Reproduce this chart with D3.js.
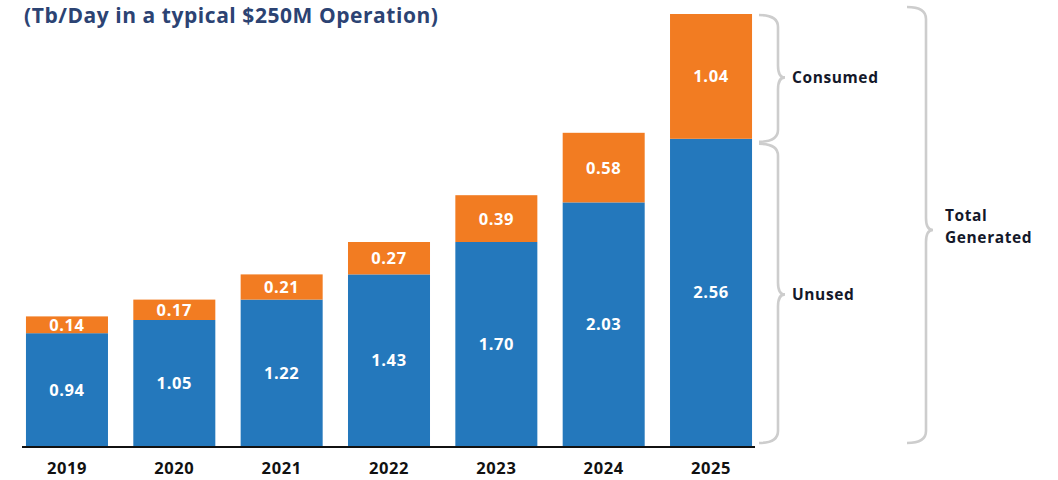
<!DOCTYPE html>
<html><head><meta charset="utf-8">
<script src="https://cdn.jsdelivr.net/npm/d3@7"></script>
<style>body{margin:0;background:#fff}svg{display:block}</style>
</head><body>
<svg id="c" width="1058" height="480"></svg>
<script>
const years = ["2019","2020","2021","2022","2023","2024","2025"];
const unused = [0.94,1.05,1.22,1.43,1.70,2.03,2.56];
const consumed = [0.14,0.17,0.21,0.27,0.39,0.58,1.04];
const titleText = "(Tb/Day in a typical $250M Operation)";
const braceLabels = ["Consumed","Unused"];
const totalLabel = ["Total","Generated"];

const blue = "#2478bc", orange = "#f27c22";
const font = "'Open Sans', Lato, sans-serif";
const svg = d3.select("#c");

const x = d3.scaleBand().domain(years).range([13.3, 764.7]).paddingInner(0.236).paddingOuter(0.118);
const y = d3.scaleLinear().domain([0, 3.6]).range([446, 14]);

const data = years.map((yr,i)=>({yr, u:unused[i], c:consumed[i]}));

const g = svg.append("g");
g.selectAll("rect.u").data(data).join("rect").attr("class","u")
  .attr("x",d=>x(d.yr)).attr("width",x.bandwidth())
  .attr("y",d=>y(d.u)).attr("height",d=>y(0)-y(d.u)).attr("fill",blue);
g.selectAll("rect.c").data(data).join("rect").attr("class","c")
  .attr("x",d=>x(d.yr)).attr("width",x.bandwidth())
  .attr("y",d=>y(d.u+d.c)).attr("height",d=>y(d.u)-y(d.u+d.c)).attr("fill",orange);

function valText(sel){
  sel.attr("text-anchor","middle").attr("fill","#fff").attr("font-family",font)
    .attr("font-weight",700).attr("font-size",16.5).attr("letter-spacing",0.6);
}
g.selectAll("text.u").data(data).join("text").attr("class","u")
  .attr("x",d=>x(d.yr)+x.bandwidth()/2).attr("y",d=>(y(0)+y(d.u))/2+6)
  .call(valText).text(d=>d.u.toFixed(2));
g.selectAll("text.c").data(data).join("text").attr("class","c")
  .attr("x",d=>x(d.yr)+x.bandwidth()/2).attr("y",d=>(y(d.u)+y(d.u+d.c))/2+6)
  .call(valText).text(d=>d.c.toFixed(2));

// axis
const xAxis = d3.axisBottom(x).tickSize(0).tickPadding(15);
const ax = svg.append("g").attr("transform",`translate(0,${y(0)+1})`).call(xAxis);
ax.select(".domain").attr("d",`M22,0H755`).attr("stroke","#111").attr("stroke-width",2.2);
ax.selectAll("text").attr("font-family",font).attr("font-weight",700).attr("font-size",16.5)
  .attr("letter-spacing",0.6).attr("fill","#111");

// title
svg.append("text").attr("x",24).attr("y",23).attr("font-family",font).attr("font-weight",700)
  .attr("font-size",21).attr("letter-spacing",0.55).attr("fill","#2c4373").text(titleText);

// braces
function brace(x0, x1, x2, y0, y1, ymid){
  const r = 12;
  return `M${x0},${y0} Q${x1},${y0} ${x1},${y0+r} L${x1},${ymid-r} Q${x1},${ymid} ${x2},${ymid}` +
         ` Q${x1},${ymid} ${x1},${ymid+r} L${x1},${y1-r} Q${x1},${y1} ${x0},${y1}`;
}
const last = data[data.length-1];
const yTop = y(last.u+last.c), ySplit = y(last.u), yBase = y(0);
const bs = {stroke:"#cdcdcd","stroke-width":2.6,fill:"none"};
function drawBrace(p){ const e = svg.append("path").attr("d",p); Object.entries(bs).forEach(([k,v])=>e.attr(k,v)); }
drawBrace(brace(759, 778, 785, yTop+1, ySplit+3, (yTop+ySplit)/2+1));
drawBrace(brace(759, 778, 785, ySplit+5, yBase-3, (ySplit+yBase)/2+2));
drawBrace(brace(907, 926, 933, yTop-7, yBase-3, (yTop+yBase)/2));

const lf = {"font-family":font,"font-weight":700,"font-size":15.5,"letter-spacing":0.6,"fill":"#14182a"};
function lbl(t,xx,yy){ const e=svg.append("text").attr("x",xx).attr("y",yy).text(t); Object.entries(lf).forEach(([k,v])=>e.attr(k,v)); }
lbl(braceLabels[0], 792, (yTop+ySplit)/2+7);
lbl(braceLabels[1], 792, (ySplit+yBase)/2+8);
lbl(totalLabel[0], 945, 221);
lbl(totalLabel[1], 945, 243);
</script>
</body></html>
